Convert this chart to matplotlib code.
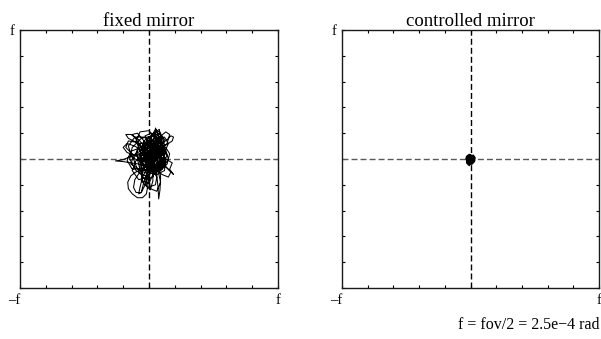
import numpy as np
import matplotlib
matplotlib.use("Agg")
import matplotlib.pyplot as plt

# pointing error trace, in units of f (= fov/2); one line per stretch of the trace
fixed_x = [
    0.03, 0.09, 0.12, 0.08, 0.00, -0.05, -0.03, 0.04, 0.10, 0.12, 0.08, 0.00, -0.08, -0.12, -0.09, -0.02, 0.06, 0.09,
    0.07, 0.05, 0.05, 0.07, 0.07, 0.04,
    0.03, 0.00, -0.05, -0.06, -0.02, 0.06, 0.13, 0.15, 0.10, 0.03,
    -0.07, -0.14, -0.20, -0.26, -0.20, -0.14, -0.08, -0.02,
    0.04, 0.09, 0.14, 0.17, 0.19, 0.18, 0.15, 0.11, 0.06, 0.02,
    -0.04, -0.10, -0.16, -0.18, -0.14, -0.08, -0.03, 0.00,
    0.00, -0.05, -0.10, -0.14, -0.165, -0.16, -0.13, -0.09, -0.05, -0.02, -0.01, 0.00, 0.01, 0.02,
    0.09, 0.03, -0.06, -0.13, -0.15, -0.10, -0.03, 0.05, 0.08, 0.04, -0.02, -0.06, -0.05, 0.02, 0.08, 0.11, 0.08, 0.02, -0.03, 0.00,
    0.04, 0.06, 0.07, 0.075, 0.085, 0.09, 0.08,
    0.11, 0.15, 0.19, 0.16, 0.18, 0.13, 0.08,
    0.05, 0.00, -0.07, -0.10, -0.07, 0.00, 0.06, 0.09, 0.10, 0.06, 0.02, -0.01, 0.02, 0.06, 0.05,
    -0.01, -0.06, -0.05, 0.00, 0.07, 0.12, 0.09, 0.02, -0.03, -0.09, -0.13, -0.09, -0.03, 0.03,
    -0.06, -0.13, -0.18, -0.16, -0.10, -0.04, 0.03, 0.09, 0.12, 0.10, 0.05, 0.01, 0.03, 0.06, 0.03, -0.03, -0.08, -0.06, 0.00, 0.04,
    0.13, 0.10, 0.03, -0.04, -0.07, -0.04, 0.03, 0.10,
    0.14, 0.09, -0.02, -0.12, -0.14, -0.06, 0.05, 0.13,
    0.10, 0.09, 0.05, 0.02, 0.02, 0.03, 0.07, 0.10,
    0.04, -0.03, -0.11, -0.16, -0.13, -0.06, 0.01,
    0.07, 0.09, 0.06, 0.01, 0.00, 0.01, 0.06,
    0.13, 0.16, 0.14, 0.09, 0.03, 0.01, 0.04, 0.09,
    0.04, 0.00, -0.07, -0.10, -0.07, -0.01, 0.04,
    0.03, -0.01, -0.08, -0.13, -0.10, -0.03, 0.03,
    0.10, 0.14, 0.16, 0.13, 0.07, 0.03, 0.01,
    -0.01, -0.05, -0.07, -0.08, -0.06, -0.04, -0.01, 0.01,
    0.03, 0.03, 0.01, -0.02, -0.01, 0.01,
    -0.05, -0.11, -0.17, -0.20, -0.17, -0.11, -0.05, 0.00,
    0.09, 0.13, 0.12, 0.06, 0.01, 0.03, 0.07,
    0.01, -0.06, -0.14, -0.17, -0.13, -0.05, 0.01,
    0.06, 0.09, 0.08, 0.05, 0.03, 0.04,
    0.08, 0.13, 0.17, 0.15, 0.10, 0.05, 0.02,
    0.06, 0.03, -0.03, -0.05, 0.00, 0.06,
    0.12, 0.15, 0.12, 0.06, 0.04, 0.07,
    0.03, -0.01, -0.07, -0.09, -0.05, 0.01, 0.03,
    0.07, 0.02, -0.04, -0.02, 0.05, 0.10, 0.08, 0.01, -0.04, 0.00, 0.06,
    0.11, 0.07, 0.00, -0.05, -0.02, 0.05, 0.10, 0.05, -0.01,
    -0.02, -0.07, -0.11, -0.12, -0.10, -0.06, -0.03, -0.01,
    0.00, 0.06, 0.10, 0.04, -0.03, -0.06, 0.00, 0.07, 0.11, 0.06, -0.01, -0.04, 0.02, 0.08, 0.04, -0.02, 0.03, 0.09, 0.05, 0.00,
    0.04, 0.10, 0.06, -0.02, -0.07, -0.03, 0.05, 0.09, 0.03, -0.04, 0.01, 0.07,
]
fixed_y = [
    0.02, 0.08, 0.15, 0.20, 0.17, 0.09, 0.00, -0.06, -0.03, 0.04, 0.10, 0.12, 0.08, 0.00, -0.08, -0.11, -0.08, 0.00,
    0.10, 0.18, 0.24, 0.19, 0.10, 0.00,
    -0.12, -0.19, -0.17, -0.06, 0.04, 0.09, 0.07, 0.00, -0.08, -0.09,
    -0.04, -0.03, -0.02, -0.015, -0.005, 0.02, 0.04, 0.03,
    0.07, 0.11, 0.15, 0.18, 0.17, 0.14, 0.12, 0.10, 0.07, 0.05,
    0.08, 0.13, 0.16, 0.19, 0.19, 0.15, 0.09, 0.03,
    -0.04, -0.08, -0.10, -0.13, -0.18, -0.23, -0.27, -0.30, -0.30, -0.27, -0.21, -0.14, -0.07, 0.00,
    0.12, 0.18, 0.16, 0.09, 0.00, -0.09, -0.13, -0.10, -0.03, 0.04, 0.07, 0.03, -0.04, -0.06, -0.02, 0.06, 0.15, 0.20, 0.18, 0.09,
    -0.03, -0.12, -0.22, -0.31, -0.24, -0.14, -0.05,
    -0.04, -0.08, -0.12, -0.08, -0.03, 0.00, 0.02,
    0.09, 0.13, 0.12, 0.05, -0.03, -0.05, 0.01, 0.09, 0.16, 0.19, 0.13, 0.03, -0.07, -0.14, -0.20,
    -0.22, -0.17, -0.09, -0.02, 0.03, -0.02, -0.09, -0.05, 0.06, 0.14, 0.19, 0.20, 0.13, 0.03,
    0.00, 0.04, 0.09, 0.14, 0.13, 0.07, 0.00, 0.04, 0.11, 0.18, 0.21, 0.17, 0.07, -0.04, -0.14, -0.16, -0.10, -0.02, 0.03, 0.00,
    0.04, 0.14, 0.19, 0.14, 0.04, -0.06, -0.10, -0.06,
    0.03, 0.09, 0.09, 0.03, -0.04, -0.09, -0.08, -0.03,
    0.11, 0.20, 0.23, 0.18, 0.07, -0.04, -0.09, 0.00,
    0.10, 0.17, 0.17, 0.10, 0.01, -0.02, 0.03,
    -0.09, -0.18, -0.25, -0.23, -0.14, -0.04, 0.03,
    0.09, 0.04, -0.04, -0.09, -0.06, 0.03, 0.10, 0.13,
    0.17, 0.22, 0.21, 0.14, 0.06, 0.00, -0.01,
    -0.07, -0.14, -0.16, -0.09, -0.01, 0.01, 0.00,
    0.07, 0.12, 0.19, 0.21, 0.16, 0.08, 0.00,
    -0.06, -0.14, -0.22, -0.27, -0.26, -0.18, -0.09, -0.02,
    -0.08, -0.17, -0.24, -0.21, -0.12, -0.04,
    0.03, 0.03, 0.05, 0.09, 0.12, 0.10, 0.06, 0.02,
    0.06, 0.00, -0.09, -0.12, -0.08, 0.02, 0.06,
    0.06, 0.09, 0.06, -0.01, -0.08, -0.07, 0.00,
    0.07, 0.17, 0.23, 0.21, 0.12, 0.02,
    -0.03, -0.06, -0.10, -0.14, -0.12, -0.07, 0.00,
    0.06, 0.12, 0.11, 0.03, -0.02, 0.00,
    0.05, 0.12, 0.17, 0.16, 0.09, 0.03,
    -0.03, -0.09, -0.08, 0.00, 0.05, 0.03, 0.01,
    0.12, 0.15, 0.08, -0.02, -0.08, -0.02, 0.08, 0.11, 0.04, -0.06, -0.10,
    -0.05, 0.05, 0.10, 0.05, -0.05, -0.11, -0.04, 0.06, 0.02,
    -0.05, -0.10, -0.16, -0.22, -0.26, -0.26, -0.20, -0.10,
    -0.02, 0.04, 0.12, 0.16, 0.11, 0.02, -0.07, -0.10, -0.01, 0.10, 0.14, 0.06, -0.04, 0.02, 0.13, 0.08, -0.05, 0.05, 0.15, 0.05,
    -0.06, 0.00, 0.07, 0.09, 0.00, -0.09, -0.12, -0.05, 0.03, -0.01, -0.08, -0.03,
]

ctrl_x = [0.00, 0.02, 0.035, 0.03, 0.01, -0.02, -0.035, -0.03, -0.01, 0.02, 0.03, 0.01, -0.01, -0.02,
          0.00, 0.02, 0.01, -0.01, -0.03, -0.02, 0.00, 0.02, 0.03, 0.01, -0.01, -0.005, 0.005, 0.00,
          0.025, -0.015, -0.025, 0.015, 0.00]
ctrl_y = [0.00, 0.03, 0.01, -0.02, -0.04, -0.03, 0.00, 0.02, 0.035, 0.02, -0.01, -0.03, -0.02, 0.01,
          0.02, 0.00, -0.02, -0.05, -0.03, 0.01, 0.03, 0.02, -0.01, -0.02, 0.00, 0.01, -0.01, 0.00,
          0.02, 0.02, -0.02, -0.025, 0.00]

titles = ["fixed mirror", "controlled mirror"]
note = "f = fov/2 = 2.5e\u22124 rad"

plt.rcParams['font.family'] = ['Liberation Serif', 'DejaVu Serif']

fig = plt.figure(figsize=(6.01, 3.39), dpi=100)
ax1 = fig.add_axes([20 / 601, 1 - 288 / 339, 258 / 601, 258 / 339])
ax2 = fig.add_axes([342 / 601, 1 - 288 / 339, 257 / 601, 258 / 339])

ticks = np.linspace(-1, 1, 11)
for ax, title, (xs, ys), lw in zip([ax1, ax2], titles,
                                   [(fixed_x, fixed_y), (ctrl_x, ctrl_y)], [0.75, 1.1]):
    ax.axhline(0, color='0.35', lw=1.0, ls=(0, (4.3, 2.2)))
    ax.axvline(0, color='k', lw=1.0, ls=(0, (4.3, 2.2)))
    ax.plot(xs, ys, color='k', lw=lw)
    ax.set_xlim(-1, 1)
    ax.set_ylim(-1, 1)
    ax.set_xticks(ticks)
    ax.set_yticks(ticks)
    xl = ax.set_xticklabels(['\u2013f'] + [''] * 9 + ['f'], fontsize=10.5)
    xl[0].set_ha('right')
    ax.set_yticklabels([''] * 10 + ['f'], fontsize=10.5)
    ax.tick_params(direction='in', length=2.5, width=0.8, top=True, right=True, pad=4)
    for s in ax.spines.values():
        s.set_linewidth(1.0)
        s.set_color('0.1')
    ax.set_title(title, fontsize=13.5, pad=3)

fig.text(599 / 601, 1 - 325 / 339, note, ha='right', va='center', fontsize=11.5)

fig.savefig('out.png', dpi=100)
